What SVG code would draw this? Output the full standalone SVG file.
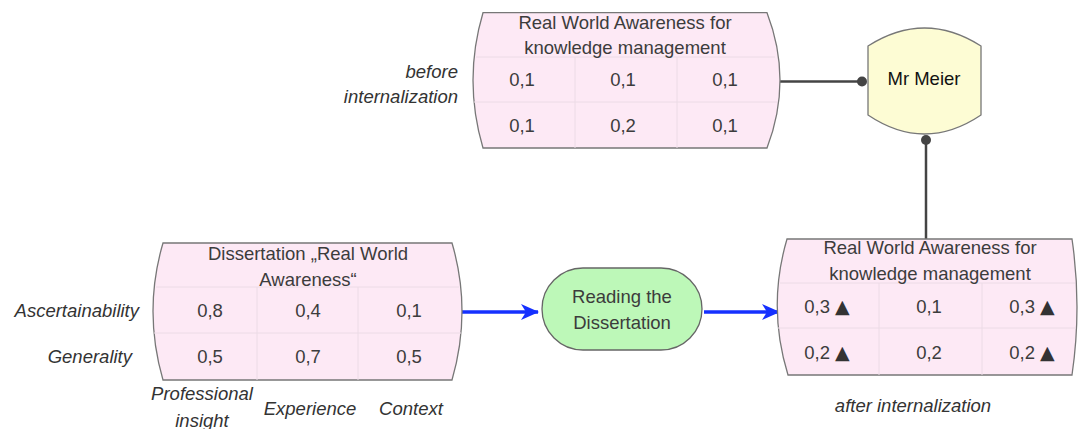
<svg xmlns="http://www.w3.org/2000/svg" width="1078" height="429" viewBox="0 0 1078 429">
<defs>
<style>
.tbl{fill:#fde9f5;stroke:#777;stroke-width:1.3}
.grid{stroke:#ecdbe6;stroke-width:1}
.t{font-family:"Liberation Sans",Arial,sans-serif;font-size:18.5px;fill:#3c3c3c;text-anchor:middle}
.h{font-family:"Liberation Sans",Arial,sans-serif;font-size:18.5px;fill:#3c3c3c;text-anchor:middle}
.lbl{font-family:"Liberation Sans",Arial,sans-serif;font-size:18.5px;font-style:italic;fill:#333}
.tri{font-family:"DejaVu Sans",sans-serif;font-size:19px;fill:#333}
.link{stroke:#444;stroke-width:2.5;fill:none}
.flow{stroke:#1530ff;stroke-width:3.5;fill:none}
</style>
<marker id="arr" markerUnits="userSpaceOnUse" markerWidth="20" markerHeight="20" refX="17" refY="0" viewBox="0 -9 20 18" orient="auto">
<path d="M0,-8 L18,0 L0,8 L5,0 Z" fill="#1530ff"/>
</marker>
</defs>

<g id="connectors">
<line class="link" x1="780" y1="81.5" x2="862" y2="81.5"/>
<circle cx="862" cy="81.5" r="5" fill="#444"/>
<line class="link" x1="926" y1="140" x2="926" y2="239"/>
<circle cx="926" cy="140" r="5" fill="#444"/>
<line class="flow" x1="462" y1="312" x2="538" y2="312" marker-end="url(#arr)"/>
<line class="flow" x1="704" y1="312" x2="779" y2="312" marker-end="url(#arr)"/>
</g>

<g id="table-before">
<path class="tbl" d="M483,12.7 L767,12.7 Q793,80 767,148 L483,148 Q463,80 483,12.7 Z"/>
<line class="grid" x1="476" y1="57" x2="775" y2="57"/>
<line class="grid" x1="474" y1="102" x2="777" y2="102"/>
<line class="grid" x1="575" y1="57" x2="575" y2="148"/>
<line class="grid" x1="677" y1="57" x2="677" y2="148"/>
<text class="h" x="625" y="28.5">Real World Awareness for</text>
<text class="h" x="625" y="54">knowledge management</text>
<text class="t" x="522" y="85.5">0,1</text>
<text class="t" x="623" y="85.5">0,1</text>
<text class="t" x="725" y="85.5">0,1</text>
<text class="t" x="522" y="131.5">0,1</text>
<text class="t" x="623" y="131.5">0,2</text>
<text class="t" x="725" y="131.5">0,1</text>
</g>

<g id="label-before">
<text class="lbl" x="458" y="77.5" text-anchor="end">before</text>
<text class="lbl" x="458" y="102.5" text-anchor="end">internalization</text>
</g>

<g id="mr-meier">
<path d="M868,46 Q924.5,10 981,46 L981,115 Q924.5,153 868,115 Z" fill="#fdfcd4" stroke="#777" stroke-width="1.3"/>
<text x="924" y="84.5" font-family="'Liberation Sans',Arial,sans-serif" font-size="18.5" fill="#111" text-anchor="middle">Mr Meier</text>
</g>

<g id="table-dissertation">
<path class="tbl" d="M163,243 L452,243 Q472,311 452,380 L163,380 Q143,311 163,243 Z"/>
<line class="grid" x1="156" y1="287" x2="459" y2="287"/>
<line class="grid" x1="154" y1="333" x2="461" y2="333"/>
<line class="grid" x1="257" y1="287" x2="257" y2="380"/>
<line class="grid" x1="358" y1="287" x2="358" y2="380"/>
<text class="h" x="308" y="259.5">Dissertation „Real World</text>
<text class="h" x="308" y="286">Awareness“</text>
<text class="t" x="210" y="316.5">0,8</text>
<text class="t" x="308" y="316.5">0,4</text>
<text class="t" x="409" y="316.5">0,1</text>
<text class="t" x="210" y="362.5">0,5</text>
<text class="t" x="308" y="362.5">0,7</text>
<text class="t" x="409" y="362.5">0,5</text>
</g>

<g id="dimension-labels">
<text class="lbl" x="139" y="316.5" text-anchor="end">Ascertainability</text>
<text class="lbl" x="132" y="362.5" text-anchor="end">Generality</text>
<text class="lbl" x="202" y="399.5" text-anchor="middle">Professional</text>
<text class="lbl" x="202" y="426.5" text-anchor="middle">insight</text>
<text class="lbl" x="310" y="414.5" text-anchor="middle">Experience</text>
<text class="lbl" x="411" y="414.5" text-anchor="middle">Context</text>
</g>

<g id="reading">
<rect x="542" y="268" width="160" height="82" rx="41" ry="41" fill="#bdf8b8" stroke="#666" stroke-width="1.3"/>
<text class="h" x="622" y="302.5">Reading the</text>
<text class="h" x="622" y="328.5">Dissertation</text>
</g>

<g id="table-after">
<path class="tbl" d="M787,239 L1072,239 Q1082,307 1072,375 L788,375 Q767,307 787,239 Z"/>
<line class="grid" x1="780" y1="283" x2="1075" y2="283"/>
<line class="grid" x1="778" y1="328" x2="1076" y2="328"/>
<line class="grid" x1="879" y1="283" x2="879" y2="375"/>
<line class="grid" x1="982" y1="283" x2="982" y2="375"/>
<text class="h" x="930" y="253.5">Real World Awareness for</text>
<text class="h" x="930" y="279.5">knowledge management</text>
<text class="t" x="827" y="312.5">0,3 <tspan class="tri">▲</tspan></text>
<text class="t" x="929" y="312.5">0,1</text>
<text class="t" x="1032" y="312.5">0,3 <tspan class="tri">▲</tspan></text>
<text class="t" x="827" y="358.5">0,2 <tspan class="tri">▲</tspan></text>
<text class="t" x="929" y="358.5">0,2</text>
<text class="t" x="1032" y="358.5">0,2 <tspan class="tri">▲</tspan></text>
</g>

<g id="label-after">
<text class="lbl" x="913" y="412" text-anchor="middle">after internalization</text>
</g>
</svg>
